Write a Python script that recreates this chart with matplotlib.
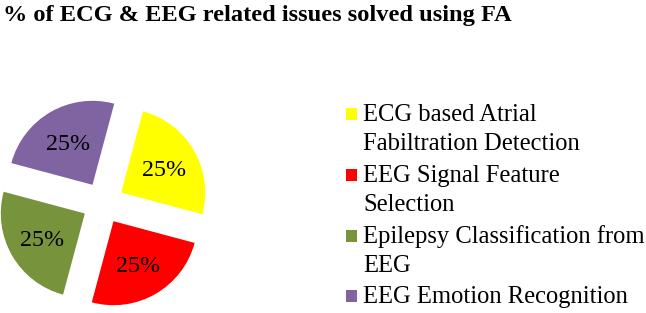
import matplotlib
matplotlib.use("Agg")
import matplotlib.pyplot as plt
from matplotlib.patches import Rectangle

title = "% of ECG & EEG related issues solved using FA"
categories = ["ECG based Atrial\nFabiltration Detection",
              "EEG Signal Feature\nSelection",
              "Epilepsy Classification from\nEEG",
              "EEG Emotion Recognition"]
values = [25, 25, 25, 25]
colors = ["#FFFF00", "#FF0000", "#77933C", "#8064A2"]

W, H = 646, 313
fig = plt.figure(figsize=(W / 100, H / 100), dpi=100)
ax = fig.add_axes([0, 0, 1, 1])
serif = ["Liberation Serif", "DejaVu Serif"]

R = 84
wedges, texts, autotexts = ax.pie(
    values, colors=colors, startangle=75, counterclock=False,
    explode=[0.25 * R] * 4, radius=R, center=(103, 110),
    autopct="%1.0f%%", pctdistance=0.59,
    textprops=dict(family=serif, fontsize=17.3, color="black"))
for w in wedges:
    w.set_clip_on(False)
for t in autotexts:
    t.set_verticalalignment("center_baseline")
ax.set_xlim(0, W)
ax.set_ylim(0, H)
ax.set_aspect("auto")
ax.axis("off")

fig.text(3 / W, 1 - 21.5 / H, title, family=serif, fontweight="bold",
         fontsize=17.6, va="baseline", ha="left")

# legend drawn manually (marker aligned to first line)
first_baselines = [121, 182, 243, 303]
line_step = 29
for cat, col, b in zip(categories, colors, first_baselines):
    fig.patches.append(Rectangle((346 / W, 1 - (b - 1) / H), 11 / W, 12 / H,
                                 transform=fig.transFigure, facecolor=col,
                                 edgecolor="none"))
    for i, line in enumerate(cat.split("\n")):
        fig.text(363 / W, 1 - (b + i * line_step) / H, line, family=serif,
                 fontsize=17.7, va="baseline", ha="left")

fig.savefig("out.png", dpi=100)
